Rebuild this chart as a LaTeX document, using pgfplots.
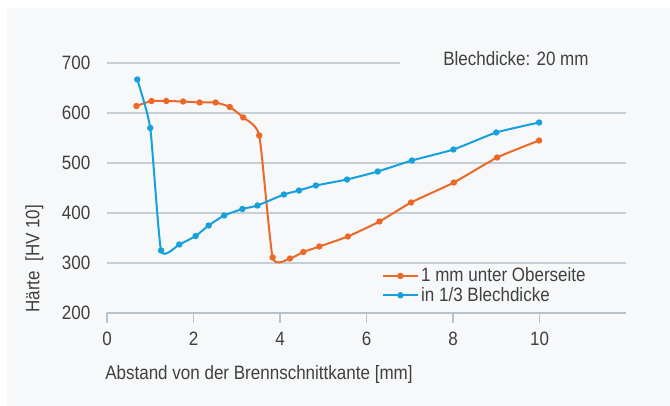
\documentclass[border=0pt]{standalone}
\usepackage{fontspec}
\setmainfont{Liberation Sans}[FakeStretch=0.88]
\usepackage{pgfplots}
\pgfplotsset{compat=1.18}
\definecolor{panel}{RGB}{246,248,250}
\definecolor{gridc}{RGB}{198,206,214}
\definecolor{axisc}{RGB}{182,194,204}
\definecolor{textc}{RGB}{64,64,64}
\definecolor{orng}{RGB}{236,104,38}
\definecolor{blu}{RGB}{22,160,220}
\begin{document}
\begin{tikzpicture}[x=0.75pt,y=0.75pt]
\fill[white] (0,0) rectangle (670,406);
\fill[panel] (7,0) rectangle (670,398);
\useasboundingbox (0,0) rectangle (670,406);
\begin{axis}[
  at={(80.25pt,69.75pt)}, anchor=south west,
  scale only axis, width=389.25pt, height=187.5pt,
  xmin=0, xmax=12, ymin=200, ymax=700,
  axis lines*=left,
  axis line style={-},
  x axis line style={draw=axisc, line width=0.9pt},
  y axis line style={draw=none},
  xtick={0,2,4,6,8,10}, ytick={200,300,400,500,600,700},
  tick align=outside, major tick length=7.5pt,
  xtick style={draw=axisc, line width=0.9pt},
  ytick style={draw=none},
  tick label style={font=\fontsize{14.5}{16}\selectfont, text=textc},
  /pgf/number format/assume math mode=true,
  yticklabel style={xshift=-1.5pt},
  xticklabel style={yshift=-3.5pt},
  legend style={draw=none, fill=none, at={(axis cs:6.36,296)}, anchor=north west,
    font=\fontsize{14.5}{16}\selectfont, text=textc, row sep=-1.5pt, inner sep=0pt},
  legend cell align=left,
  legend image code/.code={\draw[#1, mark repeat=2, mark phase=2] plot coordinates {(0cm,0cm) (0.45cm,0cm) (0.9cm,0cm)};},
  clip=false,
]
\draw[gridc, line width=0.9pt] (axis cs:0,300) -- (axis cs:12,300);
\draw[gridc, line width=0.9pt] (axis cs:0,400) -- (axis cs:12,400);
\draw[gridc, line width=0.9pt] (axis cs:0,500) -- (axis cs:12,500);
\draw[gridc, line width=0.9pt] (axis cs:0,600) -- (axis cs:12,600);
\draw[gridc, line width=0.9pt] (axis cs:0,700) -- (axis cs:6.77,700);
\addplot[orng, line width=1.5pt, smooth, tension=0.3, mark=*, mark size=1.6pt] coordinates {
(0.68,614) (1.03,624) (1.37,624) (1.76,623) (2.14,621) (2.51,621) (2.84,612) (3.15,591) (3.52,555) (3.83,311) (4.23,309) (4.54,322) (4.91,333) (5.57,353) (6.30,383) (7.03,421) (8.02,461) (9.02,511) (9.99,545)
};
\addlegendentry{1 mm unter Oberseite}
\addplot[blu, line width=1.5pt, smooth, tension=0.3, mark=*, mark size=1.6pt] coordinates {
(0.70,667) (1.00,570) (1.25,325) (1.67,337) (2.05,354) (2.35,375) (2.71,395) (3.13,408) (3.48,415) (4.09,437) (4.44,445) (4.83,455) (5.55,467) (6.26,483) (7.05,505) (8.01,527) (9.00,561) (9.99,581)
};
\addlegendentry{in 1/3 Blechdicke}
\end{axis}
\node[anchor=base west, text=textc, font=\fontsize{14.5}{16}\selectfont, inner sep=0pt] at (443,340) {Blechdicke: 20 mm};
\node[anchor=base west, text=textc, font=\fontsize{14.5}{16}\selectfont, inner sep=0pt] at (105,26) {Abstand von der Brennschnittkante [mm]};
\node[anchor=base west, rotate=90, text=textc, font=\fontsize{14.5}{16}\selectfont, inner sep=0pt] at (39.5,93) {Härte\ \ [HV 10]};
\end{tikzpicture}
\end{document}
